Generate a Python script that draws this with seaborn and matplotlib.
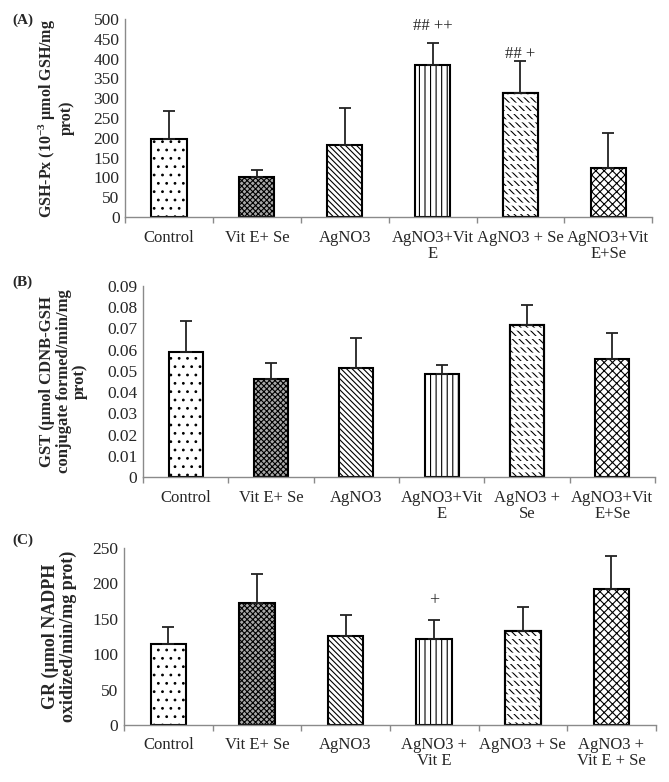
import numpy as np
import matplotlib
matplotlib.use("Agg")
import matplotlib.pyplot as plt
import seaborn as sns
from matplotlib.ticker import FixedLocator, FuncFormatter

# groups and tick labels of the three panels
labels_a = ["Control", "Vit E+ Se", "AgNO3", "AgNO3+Vit\nE", "AgNO3 + Se", "AgNO3+Vit\nE+Se"]
labels_b = ["Control", "Vit E+ Se", "AgNO3", "AgNO3+Vit\nE", "AgNO3 +\nSe", "AgNO3+Vit\nE+Se"]
labels_c = ["Control", "Vit E+ Se", "AgNO3", "AgNO3 +\nVit E", "AgNO3 + Se", "AgNO3 +\nVit E + Se"]

# (A) GSH-Px
gpx_mean = [196, 101, 182, 383, 312, 125]
gpx_sd = [71, 18, 93, 56, 81, 86]
gpx_marks = ["", "", "", "## ++", "## +", ""]
gpx_mark_y = [0, 0, 0, 483, 412, 0]
gpx_ticks = [0, 50, 100, 150, 200, 250, 300, 350, 400, 450, 500]

# (B) GST
gst_mean = [0.0591, 0.0460, 0.0516, 0.0487, 0.0718, 0.0558]
gst_sd = [0.0145, 0.0077, 0.0140, 0.0040, 0.0091, 0.0119]
gst_ticks = [0, 0.01, 0.02, 0.03, 0.04, 0.05, 0.06, 0.07, 0.08, 0.09]

# (C) GR
gr_mean = [114, 172, 126, 122, 133, 192]
gr_sd = [25, 42, 30, 27, 33, 47]
gr_marks = ["", "", "", "+", "", ""]
gr_mark_y = [0, 0, 0, 175, 0, 0]
gr_ticks = [0, 50, 100, 150, 200, 250]

BS = chr(92)  # backslash hatch
hatches = ["..", "xxxxxx", BS * 6, "|||", BS * 5, "xxxx"]
faces = ["white", "#a8a8a8", "white", "white", "white", "white"]

sns.set_theme(style="white")
plt.rcParams["font.family"] = ["Liberation Serif", "DejaVu Serif"]
plt.rcParams["mathtext.fontset"] = "custom"
plt.rcParams["mathtext.rm"] = "Liberation Serif:bold"
plt.rcParams["mathtext.it"] = "Liberation Serif:bold"
plt.rcParams["hatch.linewidth"] = 0.8
plt.rcParams["hatch.color"] = "black"

fig = plt.figure(figsize=(6.69, 7.82), dpi=100)
ax_a = fig.add_axes([0.187, 0.7225, 0.788, 0.2532])
ax_b = fig.add_axes([0.2138, 0.390, 0.7653, 0.2442])
ax_c = fig.add_axes([0.1853, 0.0729, 0.795, 0.2263])


def panel(ax, cats, mean, sd, ticks, ylabel, label_x, label_size, tag, tag_y):
    pos = np.arange(len(cats))
    sns.barplot(x=pos, y=mean, ax=ax, width=0.4, color="white", saturation=1,
                edgecolor="black", linewidth=1.5, errorbar=None, native_scale=True)
    bars = list(ax.patches)
    for bar, h, fc in zip(bars, hatches, faces):
        bar.set_hatch(h)
        bar.set_facecolor(fc)
    # break the diagonal lines of the 5th bar into short dashes
    b = bars[4]
    ov = ax.bar(b.get_x() + b.get_width() / 2, b.get_height(), b.get_width(), fill=False,
                hatch="--", edgecolor="white", linewidth=0)[0]
    if hasattr(ov, "set_hatch_linewidth"):
        ov.set_hatch_linewidth(2.2)
    ax.bar(b.get_x() + b.get_width() / 2, b.get_height(), b.get_width(), fill=False,
           edgecolor="black", linewidth=1.5)
    ax.errorbar(pos, mean, yerr=[np.zeros(len(sd)), sd], fmt="none",
                ecolor="#222222", elinewidth=1.3, capsize=4, capthick=1.3)
    ax.set_xlim(-0.5, len(cats) - 0.5)
    ax.set_ylim(ticks[0], ticks[-1])
    ax.yaxis.set_major_locator(FixedLocator(ticks))
    ax.yaxis.set_major_formatter(FuncFormatter(lambda v, p: f"{v:g}"))
    ax.set_xticks(pos)
    ax.set_xticklabels(cats, fontsize=12, linespacing=1.0)
    ax.xaxis.set_minor_locator(FixedLocator(np.arange(len(cats) + 1) - 0.5))
    ax.tick_params(axis="x", which="major", length=0, pad=9)
    ax.tick_params(axis="x", which="minor", length=4, width=1, color="#8a8a8a", direction="out", bottom=True)
    ax.tick_params(axis="y", length=0, pad=4, labelsize=12.5)
    for side in ["top", "right"]:
        ax.spines[side].set_visible(False)
    for side in ["left", "bottom"]:
        ax.spines[side].set_color("#8a8a8a")
        ax.spines[side].set_linewidth(1.0)
    ax.set_xlabel("")
    ax.set_ylabel(ylabel, fontsize=label_size, fontweight="bold", linespacing=1.05)
    ax.yaxis.set_label_coords(label_x, 0.5)
    fig.text(0.018, tag_y, tag, fontsize=11, fontweight="bold", va="center", ha="left")


panel(ax_a, labels_a, gpx_mean, gpx_sd, gpx_ticks,
      "GSH-Px (10$^{-3}$ \u00b5mol GSH/mg\nprot)", -0.095, 11.5, "(A)", 1 - 20 / 782)
panel(ax_b, labels_b, gst_mean, gst_sd, gst_ticks,
      "GST (\u00b5mol CDNB-GSH\nconjugate formed/min/mg\nprot)", -0.107, 12, "(B)", 1 - 282 / 782)
panel(ax_c, labels_c, gr_mean, gr_sd, gr_ticks,
      "GR (\u00b5mol NADPH\noxidized/min/mg prot)", -0.088, 13, "(C)", 1 - 540 / 782)

for i, (m, y) in enumerate(zip(gpx_marks, gpx_mark_y)):
    if m:
        ax_a.text(i, y, m, ha="center", va="center", fontsize=12)
for i, (m, y) in enumerate(zip(gr_marks, gr_mark_y)):
    if m:
        ax_c.text(i, y, m, ha="center", va="center", fontsize=13)

fig.savefig("out.png", dpi=100)
